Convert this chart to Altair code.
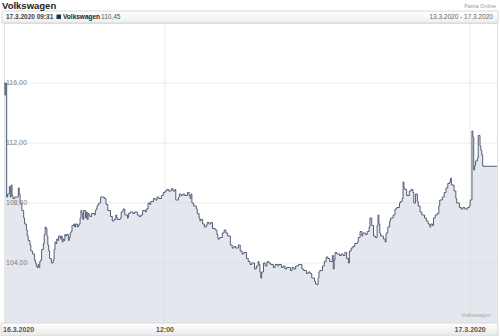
import altair as alt
import pandas as pd

# Trading time in minutes since 16.3.2020 09:00 (17.3.2020 09:00 sits at ~521)
minutes = [0, 1, 2, 3, 4, 6, 7, 8, 9, 10, 12, 15, 16, 17, 18, 20, 22, 23, 25, 26, 27, 29, 30, 32, 34, 35,
           36, 37, 38, 39, 40, 41, 42, 44, 45, 46, 47, 48, 49, 50, 51, 53, 54, 55, 56, 57, 58, 59, 60, 61,
           63, 64, 65, 66, 67, 68, 69, 70, 72, 73, 74, 75, 76, 77, 78, 79, 80, 82, 83, 84, 85, 86, 87, 88,
           89, 91, 92, 93, 94, 95, 96, 98, 101, 102, 103, 104, 105, 106,
           107, 108, 112, 114, 116, 119, 121, 123, 125, 126, 127, 130, 131, 133, 135, 138, 139, 141, 144,
           146, 149, 151, 153, 155, 158, 159, 161, 163, 164, 167, 169, 171, 173, 176, 178, 180, 182, 184,
           187, 189, 191, 192, 195, 196, 198, 200, 202, 205, 207, 208, 209, 210, 212, 215, 216, 218, 219,
           220, 222, 224, 226, 227, 229, 231, 233, 236, 238, 239, 241, 244, 246, 248, 250, 253, 255, 257,
           259, 262, 264, 266, 268, 271, 273, 275, 277, 280, 282, 284, 285, 286, 287, 288, 290, 292, 294,
           296, 298, 301, 303, 306, 307, 310, 312, 314, 316, 319, 320, 322, 324, 326, 329, 331, 333, 335,
           338, 340, 342, 344, 347, 348, 350, 351, 352,
           353, 356, 358, 360, 362, 364, 367, 368, 369, 370, 372, 375, 377, 379, 381, 383, 385, 386, 388,
           390, 392, 395, 396, 398, 400, 401, 404, 406, 408, 409, 411, 413, 415, 417, 418, 419, 420, 421,
           424, 426, 427, 429, 431, 432, 435, 437, 439, 442,
           443, 445, 446, 447, 448, 450, 453, 455, 457, 458, 460, 462, 463, 465, 467, 470, 472, 474, 476,
           477, 479, 480, 482, 484, 486, 487, 490, 492, 494, 496, 498, 499, 500, 503, 505, 506, 509, 511,
           513, 515, 518, 520, 521, 523, 524, 525, 526, 527, 529, 530, 532, 533, 534, 535, 551]
prices = [116.0, 115.2, 116.0, 108.4, 108.6, 109.1, 108.4, 109.2, 108.5, 108.3, 108.4, 108.4, 109.0, 108.6,
          108.0, 107.5, 107.0, 106.6, 106.2, 105.8, 105.5, 105.2, 104.8, 104.6, 104.2, 104.0,
          103.8, 103.7, 103.9, 103.7, 104.1, 104.2, 104.9, 105.3, 105.9, 106.4, 106.3, 105.8, 105.2, 104.8,
          104.3, 104.0, 104.0, 104.2, 104.9, 105.4, 105.3, 105.6, 105.5, 105.8,
          105.6, 105.8, 105.4, 105.6, 105.5, 105.9, 105.8, 105.9, 105.5, 105.7, 106.0, 106.1, 106.5, 106.5,
          106.6, 106.4, 106.6, 106.4, 106.5, 106.6, 107.0, 107.5, 107.3, 106.9,
          107.5, 107.0, 107.4, 106.9, 107.3, 107.2, 107.1, 107.3, 107.2, 107.5, 107.6, 107.8, 107.9, 108.0,
          108.0, 108.4, 108.3, 107.9, 107.5, 107.1, 106.8, 106.9, 107.2, 107.0, 106.9, 107.0, 107.4, 107.6,
          107.2, 107.0, 107.3, 107.4, 107.3,
          107.4, 107.2, 107.1, 107.2, 107.5, 107.4, 107.6, 108.0, 107.9, 108.1, 108.3, 108.2, 108.4, 108.3,
          108.5, 108.7, 108.8, 108.9, 108.8,
          108.95, 108.8, 108.9, 108.2, 108.4, 108.6, 108.5, 108.6, 108.5, 108.7, 108.5, 108.3, 108.6, 108.0,
          107.8, 107.6, 107.3, 107.0, 106.8,
          106.9, 106.6, 106.4, 106.5, 106.7, 106.6, 106.7, 106.3, 106.2, 105.9, 105.6, 105.7, 106.0, 106.2,
          106.0, 105.8, 105.2, 105.0, 105.1,
          105.0, 105.2, 104.8, 104.6, 104.7, 104.3, 104.1, 103.9, 104.0, 103.6, 103.8, 104.1, 103.9, 103.4,
          103.0, 103.4, 104.0, 103.8, 104.1,
          104.0, 103.9, 103.7, 103.9, 103.8, 103.9, 103.7, 103.8, 103.6, 103.7, 103.7, 103.5, 103.7, 103.6,
          103.8, 103.9, 103.9, 103.6, 103.5,
          103.3, 103.4, 103.3, 103.0, 102.8, 102.6, 102.55, 103.0, 103.4,
          103.5, 103.8, 104.1, 104.4, 104.3, 104.1, 104.5, 103.6, 104.2, 104.7, 104.6, 104.5, 104.6, 104.5,
          104.7, 104.3, 104.0, 104.8, 105.0,
          105.1, 105.3, 105.4, 105.7, 106.1, 105.8, 106.0, 105.9, 106.1, 106.4, 107.0, 106.5, 105.8, 105.7,
          106.5, 107.2, 106.6, 106.0, 105.8,
          105.6, 105.4, 106.0, 106.4, 106.8, 107.0, 107.2, 107.6, 107.7, 108.0,
          108.1, 108.3, 109.4, 109.0, 108.9, 108.5, 108.8, 108.9, 108.7, 108.0, 108.6, 108.1, 107.8, 107.4,
          107.2, 107.0, 106.8, 106.6, 106.4,
          106.6, 106.5, 107.0, 107.2, 107.3, 107.8, 108.2, 108.4, 108.7, 109.0, 109.3, 109.4, 109.65, 109.2,
          108.8, 108.3, 108.0, 107.7, 107.6,
          107.7, 107.6, 107.7, 107.8, 108.2, 112.8, 112.4, 110.2, 110.5, 110.8, 111.0, 112.5, 111.8, 111.5,
          111.2, 110.45, 110.45]

y_ticks = [104, 108, 112, 116]
y_labels = ["104,00", "108,00", "112,00", "116,00"]
x_ticks = [180, 521]
x_labels = ["12:00", "17.3.2020"]
first_label = "16.3.2020"

df = pd.DataFrame({"m": minutes, "p": prices})
ydf = pd.DataFrame({"v": y_ticks, "lab": y_labels})
xdf = pd.DataFrame({"m": x_ticks, "lab": x_labels})

W, H = 493, 300
FONT = "Liberation Sans"
xs = alt.Scale(domain=[0, 551], nice=False, zero=False)
ys = alt.Scale(domain=[100, 120], nice=False, zero=False)

area = alt.Chart(df).mark_area(interpolate="step-after", color="#e4e7ee", clip=True).encode(
    x=alt.X("m:Q", scale=xs, axis=None),
    y=alt.Y("p:Q", scale=ys, axis=None),
    y2=alt.datum(100),
)
line = alt.Chart(df).mark_line(interpolate="step-after", color="#525e78", strokeWidth=1, clip=True).encode(
    x=alt.X("m:Q", scale=xs, axis=None),
    y=alt.Y("p:Q", scale=ys, axis=None),
)

hgrid = alt.Chart(ydf).mark_rule(color="#dedede", strokeWidth=1, opacity=0.6).encode(
    y=alt.Y("v:Q", scale=ys, axis=None))
vgrid = alt.Chart(xdf).mark_rule(color="#dedede", strokeWidth=1, opacity=0.6).encode(
    x=alt.X("m:Q", scale=xs, axis=None))

ylab = alt.Chart(ydf).mark_text(align="left", baseline="middle", font=FONT, fontSize=7,
                                color="#808080").encode(
    x=alt.value(2), y=alt.Y("v:Q", scale=ys, axis=None), text="lab:N")

# bottom bar
bottom_bar = alt.Chart(pd.DataFrame({"a": [0]})).mark_rect(
    stroke="#d8d8d8", strokeWidth=1,
    color=alt.Gradient(gradient="linear", stops=[alt.GradientStop(color="#ffffff", offset=0),
                                                 alt.GradientStop(color="#e8e8e8", offset=1)],
                       x1=0, x2=0, y1=0, y2=1)).encode(
    x=alt.value(-3), x2=alt.value(W + 1), y=alt.value(H), y2=alt.value(H + 13))

xlab = alt.Chart(xdf).mark_text(align="center", baseline="middle", font=FONT, fontSize=7,
                                fontWeight="bold", color="#555555").encode(
    x=alt.X("m:Q", scale=xs, axis=None), y=alt.value(H + 7), text="lab:N")
xlab0 = alt.Chart(pd.DataFrame({"lab": [first_label]})).mark_text(
    align="left", baseline="middle", font=FONT, fontSize=7, fontWeight="bold", color="#555555").encode(
    x=alt.value(-1), y=alt.value(H + 7), text="lab:N")

# header box
header = alt.Chart(pd.DataFrame({"a": [0]})).mark_rect(
    stroke="#d8d8d8", strokeWidth=1,
    color=alt.Gradient(gradient="linear", stops=[alt.GradientStop(color="#ffffff", offset=0),
                                                 alt.GradientStop(color="#eeeeee", offset=1)],
                       x1=0, x2=0, y1=0, y2=1)).encode(
    x=alt.value(-2), x2=alt.value(W + 1), y=alt.value(-12), y2=alt.value(0))


def txt(s, x, y, size=8, weight="normal", color="#333333", align="left"):
    return alt.Chart(pd.DataFrame({"t": [s]})).mark_text(
        align=align, baseline="middle", font=FONT, fontSize=size, fontWeight=weight, color=color).encode(
        x=alt.value(x), y=alt.value(y), text="t:N")


swatch = alt.Chart(pd.DataFrame({"a": [0]})).mark_rect(color="#1f2f55").encode(
    x=alt.value(52.5), x2=alt.value(57), y=alt.value(-8.5), y2=alt.value(-4))

layers = [
    area, hgrid, vgrid, line, ylab,
    bottom_bar, xlab, xlab0,
    header, swatch,
    txt("17.3.2020 09:31", 2, -6, 6.5, "bold", "#444444"),
    txt("Volkswagen", 59, -6, 6.5, "bold", "#222222"),
    txt("110,45", 97, -6, 6.5, "normal", "#555555"),
    txt("13.3.2020 - 17.3.2020", W - 4, -6, 6.5, "normal", "#666666", "right"),
    txt("Volkswagen", -2, -17, 9.5, "bold", "#222222"),
    txt("Patria Online", W - 1, -17.5, 5.5, "normal", "#9a9a9a", "right"),
    txt("Volkswagen", 472, 292, 5.5, "normal", "#a8a8a8", "center"),
]

chart = alt.layer(*layers).properties(
    width=W, height=H,
    autosize=alt.AutoSizeParams(type="none"),
    padding={"left": 4, "top": 23, "right": 3, "bottom": 13},
    background="white",
).configure_view(stroke="#e0e0e0", strokeWidth=1)

chart.save("out.html", embed_options={"renderer": "svg", "actions": False})
